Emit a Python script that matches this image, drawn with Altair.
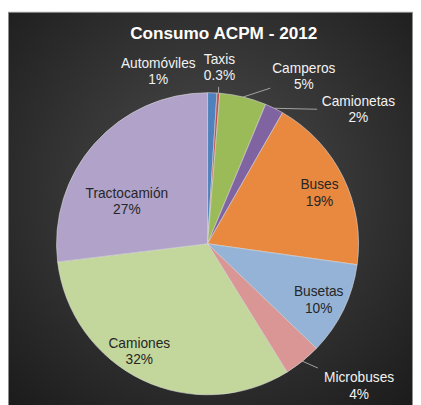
import altair as alt
import pandas as pd

# ---- data ----
categories = ["Automóviles", "Taxis", "Camperos", "Camionetas", "Buses",
              "Busetas", "Microbuses", "Camiones", "Tractocamión"]
shares = [1, 0.3, 5, 2, 19, 10, 4, 32, 27]
pct_labels = ["1%", "0.3%", "5%", "2%", "19%", "10%", "4%", "32%", "27%"]
title_text = "Consumo ACPM - 2012"

# ---- styles / layout ----
colors = ["#4F81BD", "#C0504D", "#9BBB59", "#8064A2", "#E9883F",
          "#95B3D7", "#D99694", "#C3D69B", "#B0A2C8"]
W, H = 413, 397
CX, CY, R = 203.5, 236.5, 154
R_IN, R_OUT = 126, 183
FONT = "Liberation Sans"
LH = 17
# label nudges (px) that mimic the spreadsheet's label collision layout
label_nudge = {
    "Automóviles": (-56, 8), "Taxis": (-1, 3.5), "Camperos": (55, 8),
    "Camionetas": (73, 28), "Buses": (1, 4), "Busetas": (0, 3),
    "Microbuses": (39.5, 3), "Camiones": (-15, -3), "Tractocamión": (12, 41),
}

df = pd.DataFrame({
    "category": categories,
    "share": shares,
    "pct": pct_labels,
    "order": list(range(len(categories))),
})
df["label"] = df["category"] + "\n" + df["pct"]
df["ndx"] = [label_nudge[c][0] for c in categories]
df["ndy"] = [label_nudge[c][1] for c in categories]
df["hw"] = [max(len(c), len(p)) * 3.9 + 3 for c, p in zip(categories, pct_labels)]

gradient = alt.RadialGradient(
    gradient="radial",
    stops=[alt.GradientStop(color="#4d4d4d", offset=0),
           alt.GradientStop(color="#1c1c1c", offset=1)],
    x1=0.5, y1=0.45, r1=0, x2=0.5, y2=0.45, r2=0.72,
)

background = alt.Chart(alt.Data(values=[{}])).mark_rect(
    fill=gradient, stroke="#8c8c8c", strokeWidth=1
).encode(x=alt.value(0.5), x2=alt.value(W - 0.5), y=alt.value(0.5), y2=alt.value(H + 5))

title = alt.Chart(alt.Data(values=[{"t": title_text}])).mark_text(
    font=FONT, fontSize=17.5, fontWeight="bold", color="#ffffff", baseline="middle", align="center"
).encode(text="t:N", x=alt.value(220), y=alt.value(23))

pie = alt.Chart(df).mark_arc(outerRadius=R, stroke="#dcdcdc", strokeWidth=0.6).encode(
    theta=alt.Theta("share:Q", stack=True),
    color=alt.Color("category:N", scale=alt.Scale(domain=categories, range=colors), legend=None),
    order=alt.Order("order:Q"),
    x=alt.value(CX), y=alt.value(CY),
)

geo = alt.Chart(df).transform_joinaggregate(
    total="sum(share)"
).transform_window(
    cum="sum(share)", sort=[alt.SortField("order")], frame=[None, 0]
).transform_calculate(
    mid="(datum.cum - datum.share / 2) / datum.total * 2 * PI",
    lr=f"datum.share >= 10 ? {R_IN} : {R_OUT}",
).transform_calculate(
    lx=f"{CX} + datum.lr * sin(datum.mid) + datum.ndx",
    ly=f"{CY} - datum.lr * cos(datum.mid) + datum.ndy",
    ex=f"{CX} + {R} * sin(datum.mid)",
    ey=f"{CY} - {R} * cos(datum.mid)",
).transform_calculate(
    t="max(abs(datum.lx - datum.ex) / datum.hw, abs(datum.ly - datum.ey) / 19)",
).transform_calculate(
    endx="datum.lx - (datum.lx - datum.ex) / datum.t",
    endy="datum.ly - (datum.ly - datum.ey) / datum.t",
)

leaders = geo.transform_filter("datum.share < 10 && datum.t > 1.3").mark_rule(
    color="#bfbfbf", strokeWidth=0.8
).encode(
    x=alt.X("ex:Q", scale=None), y=alt.Y("ey:Q", scale=None),
    x2="endx:Q", y2="endy:Q",
)

labels = geo.mark_text(
    font=FONT, fontSize=14, lineBreak="\n", lineHeight=LH,
    align="center", baseline="middle", dy=-LH / 2,
).encode(
    x=alt.X("lx:Q", scale=None), y=alt.Y("ly:Q", scale=None),
    text="label:N",
    color=alt.condition("datum.share >= 10", alt.value("#262626"), alt.value("#f2f2f2")),
)

chart = alt.layer(background, pie, leaders, labels, title).properties(
    width=W, height=H,
    autosize=alt.AutoSizeParams(type="fit", contains="padding"),
    padding=0,
).configure_view(stroke=None).configure(background="#ffffff")

chart.save("out.html", embed_options={"renderer": "svg", "actions": False})
